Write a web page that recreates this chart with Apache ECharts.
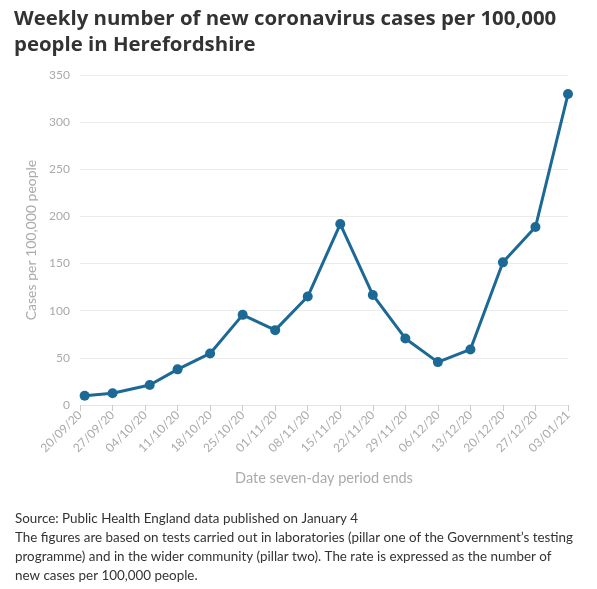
<!DOCTYPE html>
<html><head><meta charset="utf-8">
<script src="https://cdn.jsdelivr.net/npm/echarts@6/dist/echarts.min.js"></script>
<style>html,body{margin:0;padding:0;background:#fff}#c{width:597px;height:589px}</style>
</head><body><div id="c"></div>
<script>
// Tick labels (weekly, days from 20/09/20)
var tickLabels = ['20/09/20','27/09/20','04/10/20','11/10/20','18/10/20','25/10/20','01/11/20','08/11/20','15/11/20','22/11/20','29/11/20','06/12/20','13/12/20','20/12/20','27/12/20','03/01/21'];
// Day offset of each data point from 20/09/20
var dayOffsets = [1, 7, 15, 21, 28, 35, 42, 49, 56, 63, 70, 77, 84, 91, 98, 105];
// Weekly new cases per 100,000 people
var casesPer100k = [9.8, 12.4, 21.2, 37.8, 54.7, 95.6, 79.4, 115.0, 191.9, 116.7, 70.6, 45.5, 58.9, 151.3, 188.7, 329.8];

var FONT = 'Lato, "Open Sans", sans-serif';
var chart = echarts.init(document.getElementById('c'), null, {renderer:'canvas'});
var seriesData = dayOffsets.map(function(d,i){return [d, casesPer100k[i]];});
chart.setOption({
  animation:false,
  textStyle:{fontFamily:FONT},
  title:[{
    text:'Weekly number of new coronavirus cases per 100,000\npeople in Herefordshire',
    left:9, top:1,
    textStyle:{fontFamily:'"Open Sans", sans-serif', fontSize:20.4, fontWeight:'bold', color:'#333', lineHeight:26}
  },{
    text:'Source: Public Health England data published on January 4\nThe figures are based on tests carried out in laboratories (pillar one of the Government\u2019s testing\nprogramme) and in the wider community (pillar two). The rate is expressed as the number of\nnew cases per 100,000 people.',
    left:10, top:504,
    textStyle:{fontFamily:FONT, fontSize:13.4, fontWeight:'normal', color:'#333', lineHeight:19}
  }],
  grid:{left:80, right:29, top:75, bottom:184},
  xAxis:{
    type:'value', min:0, max:105, interval:7,
    name:'Date seven-day period ends', nameLocation:'middle', nameGap:66,
    nameTextStyle:{color:'#aaa', fontSize:14.5, fontFamily:FONT},
    axisLine:{show:true, lineStyle:{color:'#e6e6e6'}},
    axisTick:{show:true, lineStyle:{color:'#ccc'}, length:6},
    splitLine:{show:false},
    axisLabel:{rotate:45, color:'#aaa', fontSize:12, fontFamily:FONT, margin:8,
      formatter:function(v){return tickLabels[Math.round(v/7)] || '';}}
  },
  yAxis:{
    type:'value', min:0, max:350, interval:50,
    name:'Cases per 100,000 people', nameLocation:'middle', nameGap:41,
    nameTextStyle:{color:'#aaa', fontSize:14, fontFamily:FONT},
    axisLine:{show:false}, axisTick:{show:false},
    splitLine:{lineStyle:{color:'#ebebeb'}},
    axisLabel:{color:'#aaa', fontSize:12, fontFamily:FONT, margin:10}
  },
  series:[{
    type:'line', data:seriesData, symbol:'circle', symbolSize:10,
    lineStyle:{color:'#1d6996', width:3},
    itemStyle:{color:'#1d6996'}
  }]
});
</script></body></html>
